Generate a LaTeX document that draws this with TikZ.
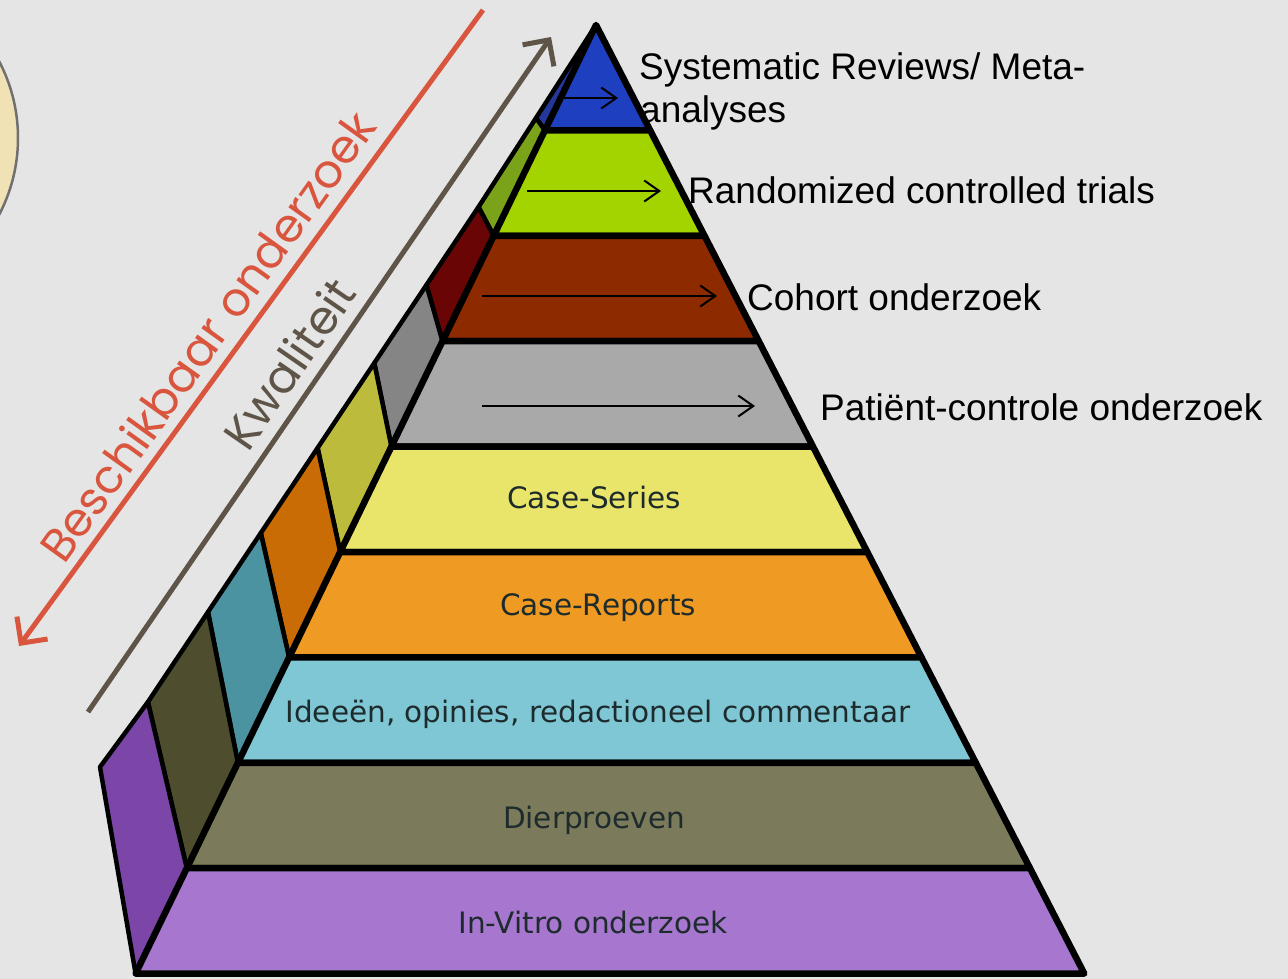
\documentclass[tikz,border=0pt]{standalone}
\usepackage{fontspec}
\usetikzlibrary{arrows.meta}
\newfontfamily\bandfont{DejaVu Sans}
\newfontfamily\labfont{Liberation Sans}
\newfontfamily\gothfont{Poppins}
\definecolor{bg}{HTML}{E5E5E5}
\definecolor{blueF}{HTML}{1E3FBF}\definecolor{blueS}{HTML}{23389A}
\definecolor{greenF}{HTML}{A3D400}\definecolor{greenS}{HTML}{7BA31A}
\definecolor{brownF}{HTML}{8E2A00}\definecolor{brownS}{HTML}{6A0505}
\definecolor{grayF}{HTML}{A9A9A9}\definecolor{grayS}{HTML}{858585}
\definecolor{yellowF}{HTML}{E9E56A}\definecolor{yellowS}{HTML}{BDBB3C}
\definecolor{orangeF}{HTML}{EF9A22}\definecolor{orangeS}{HTML}{C96C05}
\definecolor{cyanF}{HTML}{7FC7D4}\definecolor{cyanS}{HTML}{4C93A1}
\definecolor{oliveF}{HTML}{7B7B5B}\definecolor{oliveS}{HTML}{4E4D2D}
\definecolor{purpleF}{HTML}{A776CF}\definecolor{purpleS}{HTML}{7B46A8}
\definecolor{redline}{HTML}{D9553E}
\definecolor{brownline}{HTML}{5E5447}
\definecolor{bandtext}{HTML}{1E2B2D}
\definecolor{circfill}{HTML}{F1E2B6}
\definecolor{circline}{HTML}{707070}
\begin{document}
\begin{tikzpicture}[x=1pt,y=-1pt,
  sideface/.style={line width=4.5pt, draw=black, line join=round},
  frontface/.style={line width=6.5pt, draw=black, line join=round},
  bandlabel/.style={inner sep=0pt, anchor=base, text=bandtext, font=\bandfont\fontsize{29.5}{35}\selectfont},
  levellabel/.style={inner sep=0pt, anchor=base west, text=black, font=\labfont\fontsize{37}{44}\selectfont},
  levelarrow/.style={line width=2pt, draw=black, -{Straight Barb[length=15pt,width=21pt]}},
  axislabel/.style={inner sep=0pt, anchor=base west, font=\gothfont\fontsize{46.5}{52}\selectfont},
  axisline/.style={line width=5pt, -{Straight Barb[length=19pt,width=38pt]}},
]
\useasboundingbox (0,0) rectangle (1288,979);
\clip (0,0) rectangle (1288,979);
\fill[bg] (0,0) rectangle (1288,979);

% partial circle at left edge
\filldraw[fill=circfill, draw=circline, line width=2.5pt] (-147,138) circle[radius=165];

% coordinates of the pyramid
\coordinate (L0) at (596,25);    \coordinate (R0) at (596,25);
\coordinate (L1) at (544.9,130.4); \coordinate (R1) at (650.2,130.4);
\coordinate (L2) at (493.7,235.8); \coordinate (R2) at (704.5,235.8);
\coordinate (L3) at (442.5,341.2); \coordinate (R3) at (758.8,341.2);
\coordinate (L4) at (391.4,446.6); \coordinate (R4) at (813.0,446.6);
\coordinate (L5) at (340.2,552.0); \coordinate (R5) at (867.3,552.0);
\coordinate (L6) at (289.1,657.4); \coordinate (R6) at (921.5,657.4);
\coordinate (L7) at (237.9,762.8); \coordinate (R7) at (975.8,762.8);
\coordinate (L8) at (186.8,868.2); \coordinate (R8) at (1030.0,868.2);
\coordinate (L9) at (135.6,973.6); \coordinate (R9) at (1084.3,973.6);
\coordinate (S0) at (596,25);
\coordinate (S1) at (536,118);
\coordinate (S2) at (478.5,207);
\coordinate (S3) at (426.4,285);
\coordinate (S4) at (374.3,363);
\coordinate (S5) at (317.6,448);
\coordinate (S6) at (260.8,533);
\coordinate (S7) at (208,612);
\coordinate (S8) at (147.9,702);
\coordinate (S9) at (100,767);

% diagonal axes
\coordinate (redTop) at (483,10);
\coordinate (redTip) at (19,646);
\coordinate (brownBottom) at (88,712);
\coordinate (brownTip) at (551,37);
\draw[axisline, redline] (redTop) -- (redTip);
\draw[axisline, brownline] (brownBottom) -- (brownTip);
\node[axislabel, text=redline, rotate=54.4] (beschikbaar) at (64,566) {Beschikbaar onderzoek};
\node[axislabel, text=brownline, rotate=55.4] (kwaliteit) at (248,454) {Kwaliteit};

% side faces
\filldraw[sideface, fill=blueS]   (L0) -- (S0) -- (S1) -- (L1) -- cycle;
\filldraw[sideface, fill=greenS]  (L1) -- (S1) -- (S2) -- (L2) -- cycle;
\filldraw[sideface, fill=brownS]  (L2) -- (S2) -- (S3) -- (L3) -- cycle;
\filldraw[sideface, fill=grayS]   (L3) -- (S3) -- (S4) -- (L4) -- cycle;
\filldraw[sideface, fill=yellowS] (L4) -- (S4) -- (S5) -- (L5) -- cycle;
\filldraw[sideface, fill=orangeS] (L5) -- (S5) -- (S6) -- (L6) -- cycle;
\filldraw[sideface, fill=cyanS]   (L6) -- (S6) -- (S7) -- (L7) -- cycle;
\filldraw[sideface, fill=oliveS]  (L7) -- (S7) -- (S8) -- (L8) -- cycle;
\filldraw[sideface, fill=purpleS] (L8) -- (S8) -- (S9) -- (L9) -- cycle;

% front faces
\filldraw[frontface, fill=blueF]   (L0) -- (R0) -- (R1) -- (L1) -- cycle;
\filldraw[frontface, fill=greenF]  (L1) -- (R1) -- (R2) -- (L2) -- cycle;
\filldraw[frontface, fill=brownF]  (L2) -- (R2) -- (R3) -- (L3) -- cycle;
\filldraw[frontface, fill=grayF]   (L3) -- (R3) -- (R4) -- (L4) -- cycle;
\filldraw[frontface, fill=yellowF] (L4) -- (R4) -- (R5) -- (L5) -- cycle;
\filldraw[frontface, fill=orangeF] (L5) -- (R5) -- (R6) -- (L6) -- cycle;
\filldraw[frontface, fill=cyanF]   (L6) -- (R6) -- (R7) -- (L7) -- cycle;
\filldraw[frontface, fill=oliveF]  (L7) -- (R7) -- (R8) -- (L8) -- cycle;
\filldraw[frontface, fill=purpleF] (L8) -- (R8) -- (R9) -- (L9) -- cycle;

% band labels
\node[bandlabel] (caseseries)  at (594,508) {Case-Series};
\node[bandlabel] (casereports) at (598,615) {Case-Reports};
\node[bandlabel] (ideeen)      at (598,722) {Ideeën, opinies, redactioneel commentaar};
\node[bandlabel] (dier)        at (594,828) {Dierproeven};
\node[bandlabel] (invitro)     at (593,933) {In-Vitro onderzoek};

% right labels
\node[levellabel] (sr1)    at (639,80)  {Systematic Reviews/ Meta-};
\node[levellabel] (sr2)    at (640,123) {analyses};
\node[levellabel] (rct)    at (688,204) {Randomized controlled trials};
\node[levellabel] (cohort) at (747,310) {Cohort onderzoek};
\node[levellabel] (pc)     at (820,420) {Patiënt-controle onderzoek};

% arrows
\coordinate (a1s) at (558,98);  \coordinate (a1e) at (618,98);
\coordinate (a2s) at (527,191); \coordinate (a2e) at (661,191);
\coordinate (a3s) at (482,296); \coordinate (a3e) at (717,296);
\coordinate (a4s) at (482,406); \coordinate (a4e) at (755,406);
\draw[levelarrow] (a1s) -- (a1e);
\draw[levelarrow] (a2s) -- (a2e);
\draw[levelarrow] (a3s) -- (a3e);
\draw[levelarrow] (a4s) -- (a4e);
\end{tikzpicture}
\end{document}
